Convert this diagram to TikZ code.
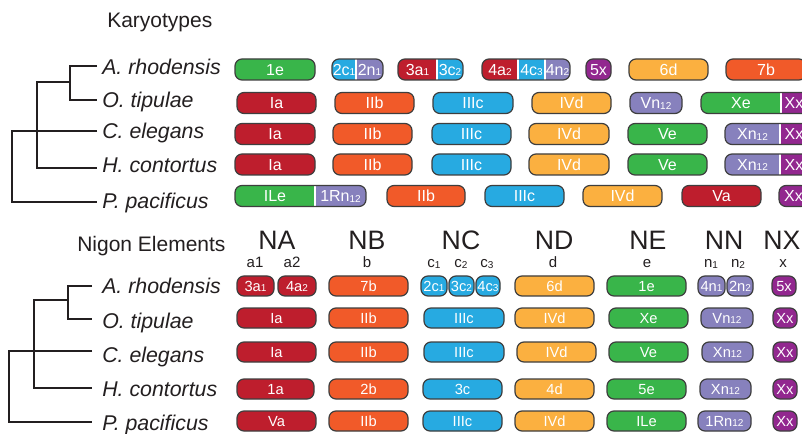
\documentclass[tikz,border=0pt]{standalone}
\usepackage{fontspec}
\setmainfont{Liberation Sans}

\definecolor{cred}{RGB}{190,30,45}
\definecolor{corange}{RGB}{241,90,41}
\definecolor{cblue}{RGB}{39,170,225}
\definecolor{cgold}{RGB}{251,176,64}
\definecolor{cgreen}{RGB}{57,181,74}
\definecolor{clav}{RGB}{135,129,189}
\definecolor{cpurple}{RGB}{146,39,143}
\definecolor{cink}{RGB}{35,31,32}
\definecolor{cedge}{RGB}{62,62,62}

% small digits inside boxes and in the column sub-headings
\newcommand\bsub[1]{\raisebox{-0.4pt}{\fontsize{7.5}{7.5}\selectfont #1}}
\newcommand\hsub[1]{\raisebox{-0.6pt}{\fontsize{7.5}{7.5}\selectfont #1}}

% box geometry and label font (changed for the lower panel)
\newcommand\boxh{15.75pt}
\newcommand\boxcap{8.6pt}
\newcommand\boxfont{\fontsize{12}{12}\selectfont}

\tikzset{
  kbox/.style={draw=cedge, line width=0.9pt, rounded corners=5.25pt,
    minimum height=\boxh, inner sep=0pt, text=white, font=\boxfont,
    text height=\boxcap, text depth=0pt},
  klab/.style={inner sep=0pt, text=white, font=\boxfont,
    text height=\boxcap, text depth=0pt},
  tree/.style={draw=cink, line width=1pt},
  species/.style={anchor=base west, inner sep=0pt, text=cink,
    font=\fontsize{16}{16}\selectfont\itshape},
  paneltitle/.style={anchor=base west, inner sep=0pt, text=cink,
    font=\fontsize{15.75}{15.75}\selectfont},
  colhead/.style={anchor=base, inner sep=0pt, text=cink,
    font=\fontsize{20}{20}\selectfont},
  colsub/.style={anchor=base, inner sep=0pt, text=cink,
    font=\fontsize{11.25}{11.25}\selectfont},
}

% single-colour chromosome box: name, left, right, y-centre, colour, label
\newcommand\kb[6]{%
  \pgfmathsetmacro\kbc{(#2+#3)/2}%
  \pgfmathsetmacro\kbw{(#3-#2)*0.75}%
  \node[kbox, fill=#5, minimum width=\kbw pt] (#1) at (\kbc,#4) {#6};}

% fused chromosome box: left, right, top, bottom, fills (from/to/colour), split positions
\newcommand\segbox[6]{%
  \begin{scope}
    \clip[rounded corners=5.25pt] (#1,#3) rectangle (#2,#4);
    \foreach \fa/\fb/\fcol in {#5} {\fill[\fcol] (\fa,#3) rectangle (\fb,#4);}
    \foreach \fx in {#6} {\draw[white, line width=1.3pt] (\fx,#3) -- (\fx,#4);}
  \end{scope}
  \draw[cedge, line width=0.9pt, rounded corners=5.25pt] (#1,#3) rectangle (#2,#4);}

\begin{document}
\begin{tikzpicture}[x=0.75pt, y=-0.75pt]
\useasboundingbox (0,0) rectangle (802,434);
\fill[white] (0,0) rectangle (802,434);
\clip (0,0) rectangle (802,434);

% ===================== upper panel: karyotypes =====================
\node[paneltitle] (ktitle) at (107,28) {Karyotypes};

\node[species] (tsA) at (102,75)  {A. rhodensis};
\node[species] (tsO) at (102,108) {O. tipulae};
\node[species] (tsC) at (102,139) {C. elegans};
\node[species] (tsH) at (102,173) {H. contortus};
\node[species] (tsP) at (102,209) {P. pacificus};

\coordinate (tA) at (97,66);
\coordinate (tO) at (97,100);
\coordinate (tC) at (97,131);
\coordinate (tH) at (97,168);
\coordinate (tP) at (97,202);
\coordinate (tAO) at (70,82);
\coordinate (tAOH) at (37,125);
\coordinate (troot) at (12,166);
\draw[tree] (tA) -| (tAO) |- (tO);
\draw[tree] (tAO) -| (tAOH) |- (tH);
\draw[tree] (tC) -| (troot) |- (tP);

% row: A. rhodensis
\kb{tA1}{235}{315}{69.5}{cgreen}{1e}
\segbox{332}{383}{59}{80}{332/356/cblue,356/383/clav}{356}
\node[klab] (tA2a) at (344,69.5) {2c\bsub{1}};
\node[klab] (tA2b) at (369.5,69.5) {2n\bsub{1}};
\segbox{398}{463}{59}{80}{398/437/cred,437/463/cblue}{437}
\node[klab] (tA3a) at (417.5,69.5) {3a\bsub{1}};
\node[klab] (tA3b) at (450,69.5) {3c\bsub{2}};
\segbox{482}{570}{59}{80}{482/518/cred,518/545/cblue,545/570/clav}{518,545}
\node[klab] (tA4a) at (500,69.5) {4a\bsub{2}};
\node[klab] (tA4b) at (531.5,69.5) {4c\bsub{3}};
\node[klab] (tA4c) at (557.5,69.5) {4n\bsub{2}};
\kb{tA5}{586}{611}{69.5}{cpurple}{5x}
\kb{tA6}{629}{708}{69.5}{cgold}{6d}
\kb{tA7}{726}{806}{69.5}{corange}{7b}

% row: O. tipulae
\kb{tO1}{237}{316}{103}{cred}{Ia}
\kb{tO2}{335}{414}{103}{corange}{IIb}
\kb{tO3}{433}{513}{103}{cblue}{IIIc}
\kb{tO4}{532}{611}{103}{cgold}{IVd}
\kb{tO5}{630}{682}{103}{clav}{Vn\bsub{12}}
\segbox{701}{812}{92.5}{113.5}{701/781/cgreen,781/812/cpurple}{781}
\node[klab] (tOXa) at (741,103) {Xe};
\node[klab] (tOXb) at (794,103) {Xx};

% row: C. elegans
\kb{tC1}{235}{315}{134}{cred}{Ia}
\kb{tC2}{333}{412}{134}{corange}{IIb}
\kb{tC3}{432}{511}{134}{cblue}{IIIc}
\kb{tC4}{529}{609}{134}{cgold}{IVd}
\kb{tC5}{628}{707}{134}{cgreen}{Ve}
\segbox{725}{812}{123.5}{144.5}{725/780/clav,780/812/cpurple}{780}
\node[klab] (tCXa) at (752.5,134) {Xn\bsub{12}};
\node[klab] (tCXb) at (794,134) {Xx};

% row: H. contortus
\kb{tH1}{235}{315}{164.5}{cred}{Ia}
\kb{tH2}{333}{412}{164.5}{corange}{IIb}
\kb{tH3}{432}{511}{164.5}{cblue}{IIIc}
\kb{tH4}{529}{609}{164.5}{cgold}{IVd}
\kb{tH5}{628}{707}{164.5}{cgreen}{Ve}
\segbox{725}{812}{154}{175}{725/780/clav,780/812/cpurple}{780}
\node[klab] (tHXa) at (752.5,164.5) {Xn\bsub{12}};
\node[klab] (tHXb) at (794,164.5) {Xx};

% row: P. pacificus
\segbox{235}{366}{185.5}{206.5}{235/315/cgreen,315/366/clav}{315}
\node[klab] (tP1a) at (275,196) {ILe};
\node[klab] (tP1b) at (340.5,196) {1Rn\bsub{12}};
\kb{tP2}{387}{465}{196}{corange}{IIb}
\kb{tP3}{485}{564}{196}{cblue}{IIIc}
\kb{tP4}{583}{662}{196}{cgold}{IVd}
\kb{tP5}{682}{761}{196}{cred}{Va}
\kb{tP6}{779}{808}{196}{cpurple}{Xx}

% ===================== lower panel: Nigon elements =====================
\renewcommand\boxh{15pt}
\renewcommand\boxcap{7.9pt}
\renewcommand\boxfont{\fontsize{11}{11}\selectfont}

\node[paneltitle] (ntitle) at (77,252) {Nigon Elements};

\node[colhead] (hNA) at (277,250) {NA};
\node[colhead] (hNB) at (367,250) {NB};
\node[colhead] (hNC) at (461,250) {NC};
\node[colhead] (hND) at (554,250) {ND};
\node[colhead] (hNE) at (648,250) {NE};
\node[colhead] (hNN) at (724,250) {NN};
\node[colhead] (hNX) at (782,250) {NX};

\node[colsub] (sa1) at (255,268) {a1};
\node[colsub] (sa2) at (292,268) {a2};
\node[colsub] (sb)  at (367,268) {b};
\node[colsub] (sc1) at (434,268) {c\hsub{1}};
\node[colsub] (sc2) at (461,268) {c\hsub{2}};
\node[colsub] (sc3) at (487,268) {c\hsub{3}};
\node[colsub] (sd)  at (553,268) {d};
\node[colsub] (se)  at (647,268) {e};
\node[colsub] (sn1) at (711,268) {n\hsub{1}};
\node[colsub] (sn2) at (738,268) {n\hsub{2}};
\node[colsub] (sx)  at (783,268) {x};

\node[species] (bsA) at (102,294) {A. rhodensis};
\node[species] (bsO) at (102,328) {O. tipulae};
\node[species] (bsC) at (102,362) {C. elegans};
\node[species] (bsH) at (102,396) {H. contortus};
\node[species] (bsP) at (102,430) {P. pacificus};

\coordinate (bA) at (92,286);
\coordinate (bO) at (92,319);
\coordinate (bC) at (92,351);
\coordinate (bH) at (92,388);
\coordinate (bP) at (92,422);
\coordinate (bAO) at (68,300);
\coordinate (bAOH) at (34,345);
\coordinate (broot) at (9,390);
\draw[tree] (bA) -| (bAO) |- (bO);
\draw[tree] (bAO) -| (bAOH) |- (bH);
\draw[tree] (bC) -| (broot) |- (bP);

% row: A. rhodensis
\kb{bA1}{237}{274}{286}{cred}{3a\bsub{1}}
\kb{bA2}{278}{316}{286}{cred}{4a\bsub{2}}
\kb{bA3}{329}{408}{286}{corange}{7b}
\kb{bA4}{421}{447}{286}{cblue}{2c\bsub{1}}
\kb{bA5}{449}{474}{286}{cblue}{3c\bsub{2}}
\kb{bA6}{476}{500}{286}{cblue}{4c\bsub{3}}
\kb{bA7}{515}{594}{286}{cgold}{6d}
\kb{bA8}{607}{686}{286}{cgreen}{1e}
\kb{bA9}{698}{725}{286}{clav}{4n\bsub{1}}
\kb{bA10}{727}{753}{286}{clav}{2n\bsub{2}}
\kb{bA11}{772}{796}{286}{cpurple}{5x}

% row: O. tipulae
\kb{bO1}{237}{316}{318}{cred}{Ia}
\kb{bO2}{329}{408}{318}{corange}{IIb}
\kb{bO3}{424}{504}{318}{cblue}{IIIc}
\kb{bO4}{515}{594}{318}{cgold}{IVd}
\kb{bO5}{609}{688}{318}{cgreen}{Xe}
\kb{bO6}{701}{753}{318}{clav}{Vn\bsub{12}}
\kb{bO7}{773}{797}{318}{cpurple}{Xx}

% row: C. elegans
\kb{bC1}{237}{316}{352}{cred}{Ia}
\kb{bC2}{329}{408}{352}{corange}{IIb}
\kb{bC3}{424}{504}{352}{cblue}{IIIc}
\kb{bC4}{517}{596}{352}{cgold}{IVd}
\kb{bC5}{609}{688}{352}{cgreen}{Ve}
\kb{bC6}{702}{753}{352}{clav}{Xn\bsub{12}}
\kb{bC7}{773}{797}{352}{cpurple}{Xx}

% row: H. contortus
\kb{bH1}{237}{314}{389}{cred}{1a}
\kb{bH2}{329}{408}{389}{corange}{2b}
\kb{bH3}{423}{502}{389}{cblue}{3c}
\kb{bH4}{515}{594}{389}{cgold}{4d}
\kb{bH5}{607}{686}{389}{cgreen}{5e}
\kb{bH6}{700}{751}{389}{clav}{Xn\bsub{12}}
\kb{bH7}{773}{797}{389}{cpurple}{Xx}

% row: P. pacificus
\kb{bP1}{237}{316}{421}{cred}{Va}
\kb{bP2}{329}{408}{421}{corange}{IIb}
\kb{bP3}{423}{502}{421}{cblue}{IIIc}
\kb{bP4}{515}{594}{421}{cgold}{IVd}
\kb{bP5}{607}{686}{421}{cgreen}{ILe}
\kb{bP6}{698}{751}{421}{clav}{1Rn\bsub{12}}
\kb{bP7}{773}{797}{421}{cpurple}{Xx}
\end{tikzpicture}
\end{document}
